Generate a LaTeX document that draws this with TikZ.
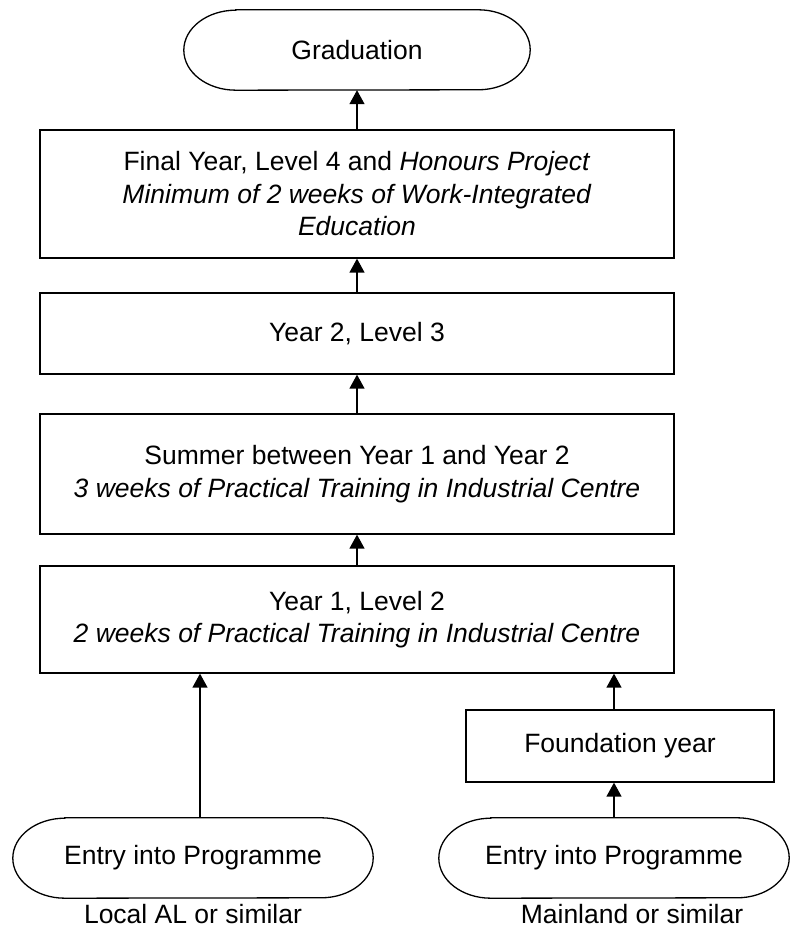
\documentclass[tikz,border=0pt]{standalone}
\usepackage{fontspec}
\setmainfont{Liberation Sans}
\usetikzlibrary{arrows.meta,calc}
\begin{document}
\begin{tikzpicture}[x=1pt,y=1pt,
  every node/.style={font=\fontsize{26.5}{32.5}\selectfont, inner sep=0pt, align=center},
  stagebox/.style={draw, line width=1.3pt, minimum width=634pt},
  plainbox/.style={minimum width=#1, minimum height=80pt},
  arr/.style={line width=1.3pt, -{Triangle[width=15pt,length=14pt]}},
  outline/.style={line width=1.3pt}]
\useasboundingbox (0,0) rectangle (789,928);
% terminals
\node[plainbox=346pt] (grad) at (357,878) {Graduation};
\node[plainbox=360pt] (entL) at (193,70) {Entry into Programme};
\node[plainbox=350pt] (entR) at (614,70) {Entry into Programme};
\foreach \n in {grad,entL,entR}{
  \draw[outline] ([xshift=52pt]\n.north west) -- ([xshift=-52pt]\n.north east)
    arc[start angle=90,end angle=-90,x radius=52,y radius=40]
    -- ([xshift=52pt]\n.south west)
    arc[start angle=270,end angle=90,x radius=52,y radius=40] -- cycle;
}
% stage boxes
\node[stagebox, minimum height=128pt] (fin) at (357,734)
  {Final Year, Level 4 and \textit{Honours Project}\\
   \textit{Minimum of 2 weeks of Work-Integrated}\\
   \textit{Education}};
\node[stagebox, minimum height=81pt] (y2) at (357,594.5) {Year 2, Level 3};
\node[stagebox, minimum height=120pt] (sum) at (357,454)
  {Summer between Year 1 and Year 2\\
   \textit{3 weeks of Practical Training in Industrial Centre}};
\node[stagebox, minimum height=107pt] (y1) at (357,308.5)
  {Year 1, Level 2\\
   \textit{2 weeks of Practical Training in Industrial Centre}};
\node[draw, line width=1.3pt, minimum width=308pt, minimum height=72pt] (fnd) at (620,182) {Foundation year};
% labels
\node (labL) at (193,14) {Local AL or similar};
\node (labR) at (632,14) {Mainland or similar};
% connectors
\coordinate (colL) at (200,0);
\coordinate (colR) at (614,0);
\draw[arr] (fin.north) -- (grad.south);
\draw[arr] (y2.north) -- (fin.south);
\draw[arr] (sum.north) -- (y2.south);
\draw[arr] (y1.north) -- (sum.south);
\draw[arr] (entL.north -| colL) -- (y1.south -| colL);
\draw[arr] (entR.north) -- (fnd.south -| colR);
\draw[arr] (fnd.north -| colR) -- (y1.south -| colR);
\end{tikzpicture}
\end{document}
